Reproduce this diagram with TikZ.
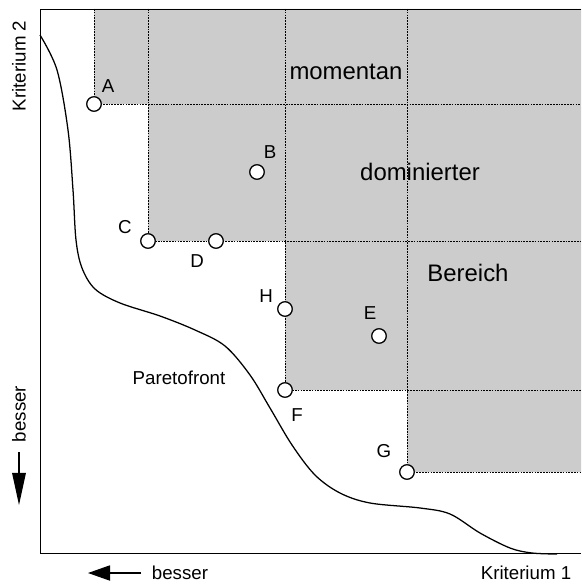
\documentclass[tikz,border=0pt]{standalone}
\usepackage{fontspec}
\setmainfont{Liberation Sans}
\usetikzlibrary{arrows.meta}
\definecolor{domgrey}{gray}{0.8}
\tikzset{
    pt/.style={circle,draw,fill=white,line width=0.8pt,inner sep=0pt,minimum size=0.36cm},
    lbl/.style={font=\fontsize{13.3}{15}\selectfont},
    big/.style={font=\fontsize{17}{20}\selectfont},
    border/.style={dash pattern=on 1.2pt off 0.8pt,line width=0.5pt}
}
\begin{document}
\begin{tikzpicture}[x=0.025cm,y=-0.025cm]
        \useasboundingbox (0,0) rectangle (581,584);

        % dominated region
        \fill[domgrey] (94,9) -- (581,9) -- (581,472) -- (407,472) -- (407,390)
            -- (285,390) -- (285,241) -- (148,241) -- (148,104) -- (94,104) -- cycle;

        \coordinate (topA) at (94,9);
        \coordinate (topC) at (148,9);
        \coordinate (topF) at (285,9);
        \coordinate (topG) at (407,9);
        \coordinate (rgtA) at (581,104);
        \coordinate (rgtC) at (581,241);
        \coordinate (rgtF) at (581,390);
        \coordinate (rgtG) at (581,472);

        \node[pt] (A) at (94,104) {};
        \node[pt] (B) at (257,172) {};
        \node[pt] (C) at (148,241) {};
        \node[pt] (D) at (216,241) {};
        \node[pt] (H) at (285,309) {};
        \node[pt] (E) at (379,336) {};
        \node[pt] (F) at (285,390) {};
        \node[pt] (G) at (407,472) {};

        \draw[border] (topA) -- (A.center) -- (rgtA);
        \draw[border] (topC) -- (C.center) -- (rgtC);
        \draw[border] (topF) -- (F.center) -- (rgtF);
        \draw[border] (topG) -- (G.center) -- (rgtG);

        % axes
        \draw[line width=0.6pt] (581,9) -- (40,9) -- (40,553) -- (581,553);

        % paretofront
        \draw[line width=0.9pt] plot[smooth,tension=0.55] coordinates {
            (40,35) (57,70) (68,130) (73,190) (76,240) (82,268) (95,289)
            (120,303) (160,316) (195,330) (225,346) (250,375) (270,408)
            (292,445) (315,475) (340,493) (370,503) (420,508) (450,514)
            (480,533) (510,548) (532,553) (557,554)};

        % redraw points on top
        \foreach \p in {A,B,C,D,H,E,F,G}
            \node[pt] at (\p) {};

        \node[lbl] (labA) at (108,86) {A};
        \node[lbl] (labB) at (270,152) {B};
        \node[lbl] (labC) at (125,227) {C};
        \node[lbl] (labD) at (197,261) {D};
        \node[lbl] (labH) at (266,296) {H};
        \node[lbl] (labE) at (370,313) {E};
        \node[lbl] (labF) at (297,415) {F};
        \node[lbl] (labG) at (384,451) {G};
        \node[lbl] (pareto) at (179,378) {Paretofront};

        \node[big] (mom) at (346,72) {momentan};
        \node[big] (dom) at (420,172) {dominierter};
        \node[big] (ber) at (468,273) {Bereich};

        \node[lbl] (krit1) at (526,573) {Kriterium 1};
        \node[lbl,rotate=90] (krit2) at (19,66) {Kriterium 2};

        \node[lbl] (bessx) at (180,573) {besser};
        \node[lbl,rotate=90] (bessy) at (19,414) {besser};
        \coordinate (xs) at (141,573);
        \coordinate (xe) at (88,573);
        \coordinate (ys) at (19,452);
        \coordinate (ye) at (19,505);
        \draw[line width=0.8pt,-{Triangle[length=0.55cm,width=0.38cm]}] (xs) -- (xe);
        \draw[line width=0.8pt,-{Triangle[length=0.8cm,width=0.34cm]}] (ys) -- (ye);
    \end{tikzpicture}
\end{document}
